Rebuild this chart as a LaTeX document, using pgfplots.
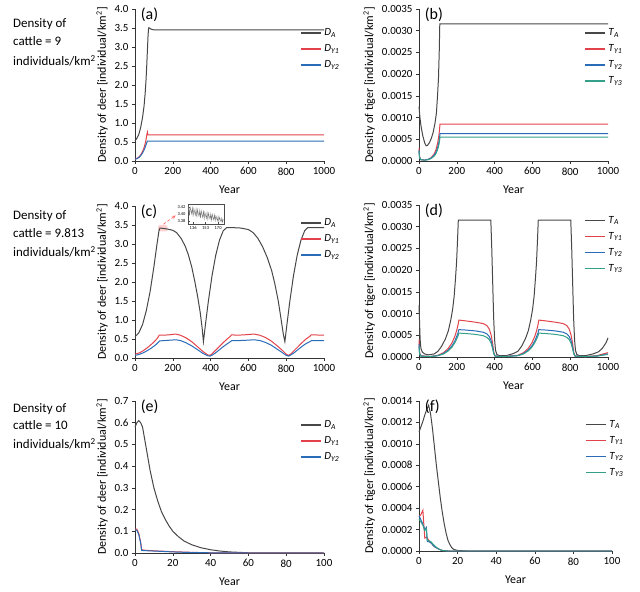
\documentclass[border=0pt]{standalone}
\usepackage{pgfplots}
\pgfplotsset{compat=1.18}
\usepackage{fontspec}
\setmainfont{Carlito}
\definecolor{cA}{HTML}{474747}
\definecolor{cR}{HTML}{E2434B}
\definecolor{cB}{HTML}{2A6CB8}
\definecolor{cG}{HTML}{35A08A}
\pgfplotsset{legend image code/.code={\draw[#1, line width=1.2pt] (0bp,0bp) -- (20bp,0bp);}}
\pgfplotsset{
  panel/.style={
    scale only axis, width=189bp, height=152bp, anchor=south west,
    axis x line*=bottom, axis y line*=left, xtick pos=left, ytick pos=left,
    axis line style={-, black!80, line width=0.7pt},
    tick align=outside, major tick length=3bp,
    tick style={black!80, line width=0.6pt},
    tick label style={font=\fontsize{11}{13}\selectfont},
    /pgf/number format/assume math mode=true,
    /pgf/number format/set thousands separator={},
    label style={font=\fontsize{12}{14}\selectfont},
    xlabel={Year},
    xlabel style={yshift=-4bp},
    legend style={draw=none, fill=none, font=\fontsize{11}{13}\selectfont,
      anchor=north west, row sep=5bp, inner sep=0pt,
      nodes={inner sep=0pt, text height=8bp, text depth=3bp},
      /tikz/every odd column/.style={column sep=3bp}},
    legend cell align=left,
    every axis plot/.append style={line width=1pt, no marks},
    clip=false,
  },
  deer/.style={ylabel={Density of deer [individual/km\textsuperscript{2}]},
    scaled y ticks=false,
    yticklabel style={/pgf/number format/fixed, /pgf/number format/fixed zerofill, /pgf/number format/precision=1}},
  tiger/.style={ylabel={Density of tiger [individual/km\textsuperscript{2}]},
    scaled y ticks=false,
    yticklabel style={/pgf/number format/fixed, /pgf/number format/fixed zerofill, /pgf/number format/precision=4}},
  long/.style={xmin=0, xmax=1000, xtick={0,200,400,600,800,1000}},
  short/.style={xmin=0, xmax=100, xtick={0,20,40,60,80,100}},
}
\newcommand{\leglab}[2]{\textit{#1}\textsubscript{\textit{#2}}}
\newcommand{\plab}[1]{\node[anchor=north west, inner sep=0pt, font=\fontsize{16}{18}\selectfont] at (rel axis cs:0.03,1.01) {(#1)};}
\begin{document}
\begin{tikzpicture}
\path[use as bounding box] (0,0) rectangle (640bp,592bp);
% row labels
\begin{scope}[every node/.style={anchor=base west, inner sep=0pt, font=\fontsize{13}{15}\selectfont}]
\node at (13bp,564.3bp) {Density of};
\node at (13bp,546.3bp) {cattle = 9};
\node at (13bp,526.3bp) {individuals/km\textsuperscript{2}};
\node at (13bp,372bp) {Density of};
\node at (13bp,354.3bp) {cattle = 9.813};
\node at (13bp,335.3bp) {individuals/km\textsuperscript{2}};
\node at (13bp,179.7bp) {Density of};
\node at (13bp,162bp) {cattle = 10};
\node at (13bp,143.3bp) {individuals/km\textsuperscript{2}};
\end{scope}

% (a)
\begin{axis}[panel, deer, long, at={(135bp,431bp)}, ymin=0, ymax=4, ytick={0,0.5,...,4.0},
  legend style={at={(rel axis cs:0.873,0.88)}}]
\addplot[color=cA] coordinates {(0,0.53) (10,0.6) (20,0.7) (30,0.88) (40,1.15) (48,1.45) (54,1.8) (58,2.1) (62,2.5) (66,2.95) (69,3.3) (72,3.5) (76,3.5) (85,3.47) (100,3.45) (1000,3.45)};
\addplot[color=cR] coordinates {(0,0.05) (10,0.07) (20,0.1) (30,0.16) (40,0.25) (50,0.38) (58,0.55) (63,0.7) (66,0.76) (68,0.69) (1000,0.69)};
\addplot[color=cB] coordinates {(0,0.05) (10,0.06) (20,0.09) (30,0.14) (40,0.21) (50,0.31) (58,0.42) (65,0.52) (70,0.52) (1000,0.52)};
\legend{\leglab{D}{A},\leglab{D}{Y1},\leglab{D}{Y2}}
\plab{a}
\end{axis}

% (b)
\begin{axis}[panel, tiger, long, at={(419bp,431bp)}, ymin=0, ymax=0.0035, ytick={0,0.0005,0.001,0.0015,0.002,0.0025,0.003,0.0035},
  legend style={at={(rel axis cs:0.873,0.88)}}]
\addplot[color=cA] coordinates {(0,0.00126) (5,0.001) (10,0.00082) (20,0.00058) (30,0.00042) (38,0.00035) (45,0.00036) (55,0.00042) (65,0.00052) (75,0.00066) (85,0.00088) (92,0.0011) (98,0.0015) (103,0.0019) (107,0.0025) (110,0.00316) (1000,0.00316)};
\addplot[color=cR] coordinates {(0,0.0003) (3,0.0001) (10,0.00003) (30,0.00002) (50,0.00004) (65,0.00008) (80,0.00016) (90,0.00026) (98,0.0004) (104,0.00055) (108,0.0007) (111,0.00085) (1000,0.00085)};
\addplot[color=cB] coordinates {(0,0.00025) (3,0.00008) (10,0.00003) (30,0.00002) (50,0.00004) (65,0.00007) (80,0.00013) (90,0.0002) (98,0.0003) (104,0.0004) (108,0.0005) (111,0.00063) (1000,0.00063)};
\addplot[color=cG] coordinates {(0,0.00022) (3,0.00007) (10,0.00003) (30,0.00002) (50,0.00003) (65,0.00006) (80,0.00011) (90,0.00017) (98,0.00026) (104,0.00035) (108,0.00044) (111,0.00055) (1000,0.00055)};
\legend{\leglab{T}{A},\leglab{T}{Y1},\leglab{T}{Y2},\leglab{T}{Y3}}
\plab{b}
\end{axis}

% (c)
\begin{axis}[panel, deer, long, at={(135bp,234bp)}, ymin=0, ymax=4, ytick={0,0.5,...,4.0},
  legend style={at={(rel axis cs:0.873,0.926)}}]
\fill[red!30, opacity=0.6, rounded corners=2bp] (axis cs:122,3.33) rectangle (axis cs:172,3.5);
\draw[red!60, densely dashed, -stealth, line width=0.6pt] (axis cs:150,3.52) -- (axis cs:215,3.75);
\addplot[color=cA] coordinates {(0,0.56) (20,0.66) (40,0.88) (60,1.25) (80,1.75) (100,2.4) (115,2.95) (127,3.35) (132,3.42) (150,3.41) (175,3.39) (200,3.36) (220,3.3) (245,3.14) (265,2.95) (282,2.72) (300,2.4) (317,2.0) (332,1.6) (345,1.2) (355,0.8) (362,0.43) (372,0.85) (387,1.45) (407,2.15) (427,2.7) (447,3.1) (467,3.35) (485,3.43) (520,3.43) (560,3.42) (600,3.38) (625,3.3) (650,3.15) (675,2.93) (700,2.64) (723,2.3) (740,1.95) (758,1.5) (772,1.05) (785,0.62) (793,0.43) (803,0.85) (818,1.45) (838,2.15) (858,2.7) (878,3.1) (898,3.35) (914,3.43) (1000,3.43)};
\addplot[color=cR] coordinates {(0,0.1) (20,0.13) (40,0.18) (60,0.25) (80,0.33) (100,0.42) (115,0.5) (125,0.57) (128,0.6) (150,0.6) (180,0.61) (215,0.63) (240,0.6) (270,0.53) (300,0.43) (330,0.3) (360,0.17) (385,0.08) (397,0.07) (410,0.12) (430,0.22) (450,0.32) (470,0.42) (490,0.51) (505,0.57) (510,0.61) (540,0.6) (580,0.61) (630,0.63) (660,0.6) (690,0.54) (720,0.45) (750,0.33) (780,0.2) (800,0.1) (812,0.07) (825,0.11) (845,0.21) (865,0.31) (885,0.41) (905,0.5) (925,0.57) (932,0.61) (1000,0.6)};
\addplot[color=cB] coordinates {(0,0.07) (20,0.09) (40,0.13) (60,0.18) (80,0.24) (100,0.31) (115,0.37) (125,0.42) (130,0.45) (160,0.46) (190,0.47) (215,0.48) (240,0.46) (270,0.4) (300,0.32) (330,0.22) (360,0.12) (385,0.06) (397,0.05) (410,0.08) (430,0.15) (450,0.23) (470,0.31) (490,0.38) (505,0.43) (512,0.46) (560,0.46) (600,0.47) (630,0.48) (660,0.46) (690,0.41) (720,0.34) (750,0.24) (780,0.14) (800,0.07) (812,0.05) (825,0.08) (845,0.15) (865,0.23) (885,0.31) (905,0.38) (925,0.43) (935,0.46) (1000,0.46)};
\legend{\leglab{D}{A},\leglab{D}{Y1},\leglab{D}{Y2}}
\plab{c}
\end{axis}

% (d)
\begin{axis}[panel, tiger, long, at={(419bp,235bp)}, ymin=0, ymax=0.0035, ytick={0,0.0005,0.001,0.0015,0.002,0.0025,0.003,0.0035},
  legend style={at={(rel axis cs:0.873,0.935)}}]
\addplot[color=cA] coordinates {(0,0.0012) (3,0.0008) (6,0.0004) (10,0.0002) (18,0.00011) (30,0.00007) (50,0.00005) (80,0.00007) (100,0.00013) (120,0.00025) (140,0.00042) (155,0.0006) (168,0.00085) (178,0.0011) (186,0.0014) (193,0.0018) (199,0.0022) (204,0.0027) (208,0.00315) (380,0.00315) (385,0.0025) (390,0.0017) (395,0.0009) (400,0.0004) (405,0.00015) (412,0.00006) (425,0.00003) (460,0.00003) (500,0.00008) (523,0.00013) (543,0.00025) (563,0.00042) (578,0.0006) (591,0.00085) (601,0.0011) (609,0.0014) (616,0.0018) (622,0.0022) (627,0.0027) (631,0.00315) (803,0.00315) (808,0.0025) (813,0.0017) (818,0.0009) (823,0.0004) (828,0.00015) (835,0.00006) (848,0.00003) (880,0.00003) (920,0.00007) (950,0.00012) (970,0.0002) (990,0.00033) (1000,0.00044)};
\addplot[color=cR] coordinates {(0,0.0004) (3,0.0001) (10,0.00003) (60,0.00001) (100,0.00004) (130,0.0001) (155,0.0002) (175,0.00033) (190,0.00048) (200,0.00062) (207,0.00075) (211,0.00085) (250,0.00083) (300,0.0008) (340,0.00077) (360,0.00072) (372,0.00064) (382,0.0005) (390,0.0003) (396,0.0001) (403,0.00002) (450,0.00001) (523,0.00004) (553,0.0001) (578,0.0002) (598,0.00033) (613,0.00048) (623,0.00062) (630,0.00075) (634,0.00085) (673,0.00083) (723,0.0008) (763,0.00077) (783,0.00072) (795,0.00064) (805,0.0005) (813,0.0003) (819,0.0001) (826,0.00002) (880,0.00001) (940,0.00003) (1000,0.0001)};
\addplot[color=cB] coordinates {(0,0.0003) (3,0.00008) (10,0.00002) (60,0.00001) (100,0.00003) (130,0.00008) (155,0.00016) (175,0.00026) (190,0.00037) (200,0.00048) (207,0.00056) (211,0.00063) (250,0.00062) (300,0.0006) (340,0.00057) (360,0.00053) (372,0.00047) (382,0.00037) (390,0.00022) (396,0.00008) (403,0.00002) (450,0.00001) (523,0.00003) (553,0.00008) (578,0.00016) (598,0.00026) (613,0.00037) (623,0.00048) (630,0.00056) (634,0.00063) (673,0.00062) (723,0.0006) (763,0.00057) (783,0.00053) (795,0.00047) (805,0.00037) (813,0.00022) (819,0.00008) (826,0.00002) (880,0.00001) (940,0.00002) (1000,0.00007)};
\addplot[color=cG] coordinates {(0,0.00025) (3,0.00007) (10,0.00002) (60,0.00001) (100,0.00003) (130,0.00007) (155,0.00014) (175,0.00023) (190,0.00033) (200,0.00042) (207,0.00049) (211,0.00055) (250,0.00054) (300,0.00052) (340,0.00049) (360,0.00045) (372,0.0004) (382,0.00031) (390,0.00018) (396,0.00007) (403,0.00002) (450,0.00001) (523,0.00003) (553,0.00007) (578,0.00014) (598,0.00023) (613,0.00033) (623,0.00042) (630,0.00049) (634,0.00055) (673,0.00054) (723,0.00052) (763,0.00049) (783,0.00045) (795,0.0004) (805,0.00031) (813,0.00018) (819,0.00007) (826,0.00002) (880,0.00001) (940,0.00002) (1000,0.00006)};
\legend{\leglab{T}{A},\leglab{T}{Y1},\leglab{T}{Y2},\leglab{T}{Y3}}
\plab{d}
\end{axis}

% (e)
\begin{axis}[panel, deer, short, at={(135bp,39bp)}, ymin=0, ymax=0.7, ytick={0,0.1,...,0.7},
  legend style={at={(rel axis cs:0.873,0.88)}}]
\addplot[color=cA] coordinates {(0,0.58) (1,0.6) (2,0.61) (3,0.6) (4,0.58) (5,0.53) (6,0.48) (7,0.43) (8,0.38) (9,0.34) (10,0.3) (12,0.24) (14,0.19) (16,0.155) (18,0.125) (20,0.1) (23,0.075) (26,0.055) (30,0.038) (35,0.024) (40,0.015) (45,0.009) (50,0.005) (55,0.003) (60,0.001) (70,0.0003) (100,0)};
\addplot[color=cR] coordinates {(0,0.11) (1,0.11) (2,0.09) (3,0.05) (3.5,0.015) (5,0.013) (10,0.01) (20,0.006) (30,0.003) (40,0.001) (60,0) (100,0)};
\addplot[color=cB] coordinates {(0,0.105) (1,0.105) (2,0.085) (3,0.045) (3.5,0.012) (5,0.011) (10,0.009) (20,0.005) (30,0.002) (40,0.001) (60,0) (100,0)};
\legend{\leglab{D}{A},\leglab{D}{Y1},\leglab{D}{Y2}}
\plab{e}
\end{axis}

% (f)
\begin{axis}[panel, tiger, short, at={(419bp,41bp)}, width=193bp, height=150bp, ymin=0, ymax=0.0014, ytick={0,0.0002,0.0004,0.0006,0.0008,0.001,0.0012,0.0014},
  legend style={at={(rel axis cs:0.86,0.88)}}]
\addplot[color=cA] coordinates {(0,0.00111) (1,0.00116) (2,0.00121) (3,0.00127) (4,0.00132) (5,0.00136) (6,0.00128) (7,0.00114) (8,0.00097) (9,0.0008) (10,0.00065) (11,0.0005) (12,0.00037) (13,0.00026) (14,0.00017) (15,0.0001) (16,0.00006) (17,0.00003) (18,0.000015) (20,0.000005) (25,0) (100,0)};
\addplot[color=cR] coordinates {(0,0.00032) (1,0.00034) (2,0.00038) (3,0.00012) (4,0.00013) (5,0.0001) (6,0.00008) (8,0.00004) (10,0.00002) (12,0.000005) (15,0) (100,0)};
\addplot[color=cB] coordinates {(0,0.00033) (1,0.00029) (2,0.00025) (3,0.0002) (3.8,0.00022) (4.3,0.00009) (6,0.00008) (8,0.00004) (10,0.00002) (12,0.000005) (15,0) (100,0)};
\addplot[color=cG] coordinates {(0,0.0003) (1,0.00027) (2,0.00024) (3,0.00019) (3.8,0.00021) (4.3,0.0001) (6,0.00009) (8,0.00005) (10,0.00002) (12,0.000005) (15,0) (100,0)};
\legend{\leglab{T}{A},\leglab{T}{Y1},\leglab{T}{Y2},\leglab{T}{Y3}}
\plab{f}
\end{axis}

% inset of (c)
\begin{axis}[at={(188bp,368bp)}, anchor=south west, scale only axis, width=36bp, height=20bp,
  xmin=129, xmax=178, ymin=3.371, ymax=3.428, xtick={136,153,170}, ytick={3.38,3.40,3.42},
  tick label style={font=\fontsize{4.5}{5}\selectfont},
  /pgf/number format/assume math mode=true,
  yticklabel style={/pgf/number format/fixed, /pgf/number format/fixed zerofill, /pgf/number format/precision=2, xshift=1bp},
  xticklabel style={yshift=1bp},
  major tick length=1.5bp, tick style={black!70, line width=0.3pt}, axis line style={black!70, line width=0.4pt},
  xtick pos=left, ytick pos=left]
\addplot[color=black!55, line width=0.4pt, no marks] coordinates {(129,3.405) (130,3.42) (131,3.395) (132,3.418) (133,3.41) (134,3.40) (135,3.417) (136,3.392) (137,3.415) (138,3.405) (139,3.396) (140,3.414) (141,3.39) (142,3.412) (143,3.40) (144,3.393) (145,3.41) (146,3.388) (147,3.409) (148,3.398) (149,3.39) (150,3.407) (151,3.386) (152,3.405) (153,3.395) (154,3.387) (155,3.404) (156,3.384) (157,3.402) (158,3.392) (159,3.385) (160,3.4) (161,3.382) (162,3.399) (163,3.39) (164,3.383) (165,3.397) (166,3.38) (167,3.395) (168,3.387) (169,3.38) (170,3.393) (171,3.378) (172,3.39) (173,3.383) (174,3.377) (175,3.388) (176,3.376) (177,3.385)};
\end{axis}
\end{tikzpicture}
\end{document}
